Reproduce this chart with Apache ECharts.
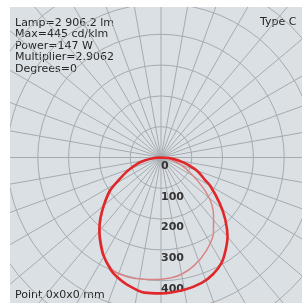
<!DOCTYPE html>
<html>
<head>
<meta charset="utf-8">
<script src="https://cdn.jsdelivr.net/npm/echarts@6/dist/echarts.min.js"></script>
<style>
    html, body { margin: 0; padding: 0; background: #fff; }
    #polar_map { position: absolute; left: 10px; top: 7px; width: 292px; height: 296px; }
</style>
</head>
<body>
<div id="polar_map"></div>
<script>
// 光强分布 (cd/klm), gamma 角: 负数 = 右半边, 正数 = 左半边
var gammaC0 = [-90, -85, -80, -75, -69, -63, -60, -52, -46, -40, -35, -30, -24, -18, -10, 0, 7, 15, 20, 24, 31, 37, 41, 45, 50, 57, 62, 68, 75, 80, 85, 90];
var valueC0 = [0, 30, 60, 90, 129, 160, 185, 242, 290, 336, 366, 394, 415, 428, 436, 441, 442, 427, 414, 400, 366, 330, 305, 278, 243, 198, 155, 118, 80, 52, 26, 0];

var gammaC90 = [-90, -80, -70, -62, -55, -49, -42, -35, -26, -17, -10, -5, 0, 6, 12, 18, 23, 28, 31, 37, 41, 45, 50, 57, 62, 68, 75, 80, 85, 90];
var valueC90 = [0, 28, 68, 110, 162, 212, 255, 297, 336, 367, 385, 392, 395, 398, 402, 402, 398, 378, 362, 326, 301, 274, 239, 194, 151, 115, 77, 50, 24, 0];

var radiusTicks = [0, 100, 200, 300, 400];
var infoLines = ['Lamp=2 906.2 lm', 'Max=445 cd/klm', 'Power=147 W', 'Multiplier=2.9062', 'Degrees=0'];
var typeText = 'Type C';
var pointText = 'Point 0x0x0 mm';

function toPolar(gammas, values) {
    var out = [];
    for (var i = 0; i < gammas.length; i++) {
        var a = gammas[i] < 0 ? gammas[i] + 360 : gammas[i];
        out.push([values[i], a]);
    }
    return out;
}

var polarChart = echarts.init(document.getElementById('polar_map'));
var gridColor = '#a6abb0';
var textFont = 'DejaVu Sans';

option = {
    backgroundColor: '#dbe0e5',
    animation: false,
    polar: {
        center: [151, 150.5],
        radius: [0, 215.6]
    },
    angleAxis: {
        type: 'value',
        min: 0,
        max: 360,
        interval: 10,
        startAngle: 270,
        clockwise: true,
        axisLine: { show: false },
        axisTick: { show: false },
        axisLabel: { show: false },
        splitLine: {
            show: true,
            lineStyle: { color: gridColor, width: 1 }
        }
    },
    radiusAxis: {
        type: 'value',
        min: 0,
        max: 700,
        interval: 100,
        axisLine: { show: false },
        axisTick: { show: false },
        axisLabel: {
            margin: 0,
            align: 'left',
            verticalAlign: 'top',
            padding: [3, 0, 0, 0],
            color: '#333',
            fontSize: 11,
            fontWeight: 'bold',
            fontFamily: textFont,
            formatter: function (v) {
                return radiusTicks.indexOf(v) >= 0 ? String(v) : '';
            }
        },
        splitLine: {
            show: true,
            lineStyle: { color: gridColor, width: 1 }
        }
    },
    graphic: [{
            type: 'text',
            left: 5,
            top: 10,
            style: {
                text: infoLines.join('\n'),
                fill: '#262626',
                fontSize: 11,
                fontFamily: textFont,
                lineHeight: 11.6
            }
        },
        {
            type: 'text',
            left: 250,
            top: 10,
            style: { text: typeText, fill: '#262626', fontSize: 11, fontFamily: textFont }
        },
        {
            type: 'text',
            left: 5,
            top: 283,
            style: { text: pointText, fill: '#262626', fontSize: 11, fontFamily: textFont }
        }
    ],
    series: [{
            name: 'C90-C270',
            type: 'line',
            coordinateSystem: 'polar',
            showSymbol: false,
            smooth: 0.3,
            data: toPolar(gammaC90, valueC90),
            lineStyle: { color: '#d98585', width: 1.5 },
            z: 3
        },
        {
            name: 'C0-C180',
            type: 'line',
            coordinateSystem: 'polar',
            showSymbol: false,
            smooth: 0.3,
            data: toPolar(gammaC0, valueC0),
            lineStyle: { color: '#e0282a', width: 2.6 },
            z: 4
        }
    ]
};
polarChart.setOption(option);
</script>
</body>
</html>
